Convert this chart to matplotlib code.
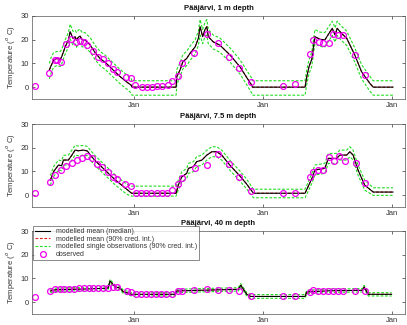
import matplotlib
matplotlib.use("Agg")
import matplotlib.pyplot as plt
from matplotlib.lines import Line2D

# days relative to 1 Jan of the second year
JAN_TICKS = [0, 365, 730]
TITLES = ["Pääjärvi, 1 m depth", "Pääjärvi, 7.5 m depth", "Pääjärvi, 40 m depth"]

# ---- 1 m ----
d1 = [-240, -235, -228, -219, -209, -205, -195, -186, -181, -173, -167, -163, -158, -153,
      -147, -139, -124, -110, -96, -82, -68, -54, -40, -21, -8, -6, 119, 121, 130, 138,
      149, 158, 173, 182, 187, 194, 201, 206, 210, 224, 243, 272, 300, 317, 333, 335,
      484, 489, 495, 503, 512, 526, 540, 555, 561, 569, 575, 583, 592, 602, 625, 644,
      668, 677, 733]
med1 = [7.2, 9.0, 11.4, 12.1, 11.7, 12.8, 17.0, 19.9, 23.4, 20.6, 21.3, 19.8, 21.0, 21.5,
        20.0, 19.9, 17.7, 14.5, 12.0, 10.5, 8.5, 6.5, 4.5, 2.2, 0.8, 0.0, 0.0, 4.4, 7.2, 10.7,
        12.1, 14.2, 17.0, 20.6, 25.5, 21.3, 24.4, 25.5, 21.3, 19.1, 17.7, 13.5, 8.5, 4.5, 0.8, 0.0,
        0.0, 4.4, 8.5, 11.7, 21.3, 20.2, 19.9, 23.4, 24.8, 22.0, 24.8, 23.4, 22.0, 20.6, 13.5, 6.5,
        1.5, 0.0, 0.0]
up1 = [10.0, 12.5, 14.5, 15.0, 15.0, 16.0, 20.0, 23.0, 26.5, 23.5, 24.0, 23.0, 24.0, 24.5,
       23.0, 23.0, 20.8, 17.5, 15.0, 13.5, 11.5, 9.5, 7.5, 5.2, 3.5, 2.7, 2.7, 7.5, 10.2, 13.7,
       15.2, 17.2, 20.0, 23.6, 28.5, 24.3, 27.4, 28.5, 24.3, 22.0, 20.7, 16.5, 11.5, 7.5, 3.8, 2.7,
       2.7, 7.5, 11.5, 14.7, 24.3, 23.2, 23.0, 26.4, 27.8, 25.0, 27.8, 26.4, 25.0, 23.6, 16.5, 9.5,
       4.5, 2.7, 2.7]
lo1 = [3.5, 6.0, 8.4, 9.1, 8.7, 9.8, 14.0, 16.9, 20.4, 17.6, 18.3, 16.8, 18.0, 18.5,
       17.0, 16.9, 14.7, 11.5, 9.0, 7.5, 5.5, 3.5, 1.5, -0.8, -2.5, -3.4, -3.4, 1.2, 4.2, 7.7,
       9.1, 11.2, 14.0, 17.6, 22.0, 18.3, 21.4, 22.0, 18.3, 16.1, 14.7, 10.5, 5.5, 1.5, -2.5, -3.4,
       -3.4, 1.2, 5.5, 8.7, 18.3, 17.2, 16.9, 20.4, 21.8, 19.0, 21.8, 20.4, 19.0, 17.6, 10.5, 3.5,
       -1.8, -3.4, -3.4]
od1 = [-280, -240, -225, -219, -207, -192, -179, -164, -153, -143, -132, -117, -103, -87,
       -73, -59, -47, -23, -9, 3, 22, 36, 50, 64, 78, 95, 108, 124, 135, 171, 206, 237,
       269, 297, 330, 421, 455, 498, 506, 523, 536, 552, 564, 578, 592, 625, 654]
ot1 = [0.5, 6.0, 11.4, 11.4, 10.7, 18.0, 20.1, 19.1, 19.6, 19.0, 17.6, 15.3, 12.8, 11.7,
       10.0, 7.5, 6.3, 4.4, 3.8, 1.0, -0.1, -0.1, 0.1, 0.4, 0.4, 0.8, 2.4, 4.8, 10.3, 14.2,
       22.3, 18.5, 12.8, 7.9, 2.1, 0.4, 1.3, 14.0, 19.7, 18.9, 18.6, 18.5, 22.3, 22.1, 22.1,
       13.4, 5.1]

# ---- 7.5 m ----
d2 = [-237, -228, -214, -205, -200, -186, -176, -167, -158, -143, -132, -124, -110, -96,
      -82, -68, -54, -40, -21, -7, 119, 125, 135, 149, 154, 168, 177, 192, 206, 220, 234,
      248, 272, 300, 317, 338, 484, 503, 512, 540, 550, 573, 583, 602, 611, 620, 634, 653,
      677, 733]
med2 = [6.3, 9.9, 12.7, 12.4, 14.8, 14.8, 16.9, 19.0, 18.7, 19.0, 18.6, 16.9, 14.5, 12.5,
        10.5, 8.5, 6.5, 4.8, 2.5, 0.8, 0.8, 4.2, 7.7, 9.2, 11.3, 12.0, 14.1, 14.8, 16.9, 18.3, 18.3,
        16.9, 12.5, 8.0, 5.0, 0.8, 0.8, 6.9, 10.6, 11.3, 15.5, 15.5, 16.9, 16.9, 18.3, 16.9, 10.6, 4.2,
        1.3, 1.3]
up2 = [8.3, 12.0, 14.8, 14.5, 16.8, 16.9, 19.0, 21.0, 20.7, 21.0, 20.5, 19.0, 16.6, 14.6,
       12.6, 10.6, 8.6, 6.9, 4.6, 3.8, 3.8, 6.3, 9.8, 11.3, 13.4, 14.1, 16.2, 16.9, 19.0, 20.4, 20.4,
       19.0, 14.6, 10.1, 7.1, 2.5, 2.5, 9.0, 12.7, 13.4, 17.6, 17.6, 19.0, 19.0, 20.4, 19.0, 12.7, 6.3,
       3.1, 3.1]
lo2 = [4.3, 7.8, 10.6, 10.3, 12.7, 12.7, 14.8, 16.9, 16.6, 16.9, 16.6, 14.8, 12.4, 10.4,
       8.4, 6.4, 4.4, 2.7, 0.4, -0.4, -0.4, 2.1, 5.6, 7.1, 9.2, 9.9, 12.0, 12.7, 14.8, 16.2, 16.2,
       14.8, 10.4, 5.9, 2.9, -1.1, -1.1, 4.8, 8.5, 9.2, 13.4, 13.4, 14.8, 14.8, 16.2, 14.8, 8.5, 2.1,
       -0.1, -0.1]
od2 = [-281, -238, -223, -207, -192, -176, -162, -148, -132, -120, -104, -90, -74, -60,
       -49, -25, -9, 6, 20, 33, 48, 64, 78, 94, 108, 124, 135, 173, 206, 237, 269, 297,
       330, 421, 455, 498, 507, 521, 534, 552, 566, 581, 597, 628, 654]
ot2 = [1.1, 5.6, 8.7, 10.6, 12.4, 13.4, 14.8, 15.8, 16.6, 15.5, 13.0, 12.0, 9.9, 7.7,
       6.8, 4.5, 3.9, 1.1, 0.7, 0.7, 0.7, 0.7, 0.7, 1.1, 2.1, 4.5, 7.3, 11.5, 12.7, 17.2,
       13.0, 7.7, 1.7, 0.7, 1.1, 7.7, 9.9, 10.6, 10.8, 16.2, 14.4, 16.6, 14.4, 13.7, 5.1]

# ---- 40 m ----
d3 = [-237, -223, -181, -124, -74, -68, -54, -40, -30, -21, -7, 116, 121, 187, 295, 302,
      319, 330, 484, 489, 555, 647, 651, 663, 729]
med3 = [4.7, 5.2, 5.4, 5.6, 5.9, 8.9, 6.5, 5.9, 4.3, 4.0, 3.3, 3.3, 4.7, 5.0, 5.4, 7.1,
        3.3, 2.4, 2.4, 4.3, 4.8, 5.0, 6.4, 3.3, 3.3]
up3 = [5.4, 5.9, 6.1, 6.3, 6.6, 9.6, 7.2, 6.6, 5.0, 4.7, 4.0, 4.0, 5.4, 5.7, 6.1, 7.8,
       4.0, 3.2, 3.2, 5.0, 5.5, 5.7, 7.1, 4.0, 4.0]
lo3 = [4.0, 4.5, 4.7, 4.9, 5.2, 8.2, 5.8, 5.2, 3.6, 3.3, 2.6, 2.6, 4.0, 4.3, 4.7, 6.4,
       2.6, 1.6, 1.6, 3.6, 4.1, 4.3, 5.7, 2.6, 2.6]
od3 = [-281, -238, -225, -211, -197, -183, -170, -156, -143, -129, -115, -101, -87, -73,
       -59, -47, -21, -8, 6, 20, 34, 48, 62, 76, 91, 107, 124, 135, 171, 206, 237, 269,
       297, 330, 421, 455, 498, 507, 521, 536, 550, 564, 578, 592, 625, 654]
ot3 = [2.2, 4.7, 5.5, 5.6, 5.7, 5.7, 5.7, 5.8, 5.8, 5.8, 5.9, 5.9, 5.9, 6.0, 6.5, 6.4,
       4.7, 4.3, 3.5, 3.3, 3.3, 3.3, 3.3, 3.3, 3.4, 3.4, 4.7, 4.7, 5.0, 5.4, 5.2, 5.2, 4.9,
       2.4, 2.4, 2.4, 4.3, 5.0, 4.7, 4.7, 4.9, 4.9, 4.9, 4.9, 4.7, 4.7]

PANELS = [(d1, med1, up1, lo1, od1, ot1),
          (d2, med2, up2, lo2, od2, ot2),
          (d3, med3, up3, lo3, od3, ot3)]

GREEN, RED, MAG = "#22dd22", "#e02020", "#ee00ee"
TXT = "#333333"
plt.rcParams["font.family"] = ["Liberation Sans", "DejaVu Sans"]

fig = plt.figure(figsize=(4.07, 3.25), dpi=100)
tops = [16, 124, 231]   # pixel rows of the axes tops
for i, (d, med, up, lo, od, ot) in enumerate(PANELS):
    top = tops[i]
    ax = fig.add_axes([32 / 407, 1 - (top + 83) / 325, 373 / 407, 83 / 325])
    ax.plot(d, up, "--", color=GREEN, lw=0.8, dashes=(2.5, 1.5))
    ax.plot(d, lo, "--", color=GREEN, lw=0.8, dashes=(2.5, 1.5))
    ax.plot(d, med, "--", color=RED, lw=0.8, dashes=(2.5, 1.5))
    ax.plot(d, med, "-", color="black", lw=0.8)
    ax.plot(od, ot, "o", mfc="none", mec=MAG, ms=4.2, mew=0.9)
    ax.set_xlim(-289, 767)
    ax.set_ylim(-5, 30)
    ax.set_yticks([0, 10, 20, 30])
    ax.set_xticks(JAN_TICKS)
    ax.set_xticklabels(["Jan"] * 3)
    ax.tick_params(direction="in", length=2.5, width=0.5, labelsize=5.5,
                   colors=TXT, top=True, right=True, pad=2)
    for s in ax.spines.values():
        s.set_linewidth(0.5)
        s.set_color("#555555")
    ax.set_ylabel("Temperature ($^o$ C)", fontsize=5.5, color=TXT, labelpad=3)
    ax.set_title(TITLES[i], fontsize=5.5, fontweight="bold", color="#111111", pad=4)

    if i == 2:
        handles = [Line2D([], [], color="black", lw=0.8),
                   Line2D([], [], color=RED, lw=0.8, ls="--", dashes=(2.5, 1.5)),
                   Line2D([], [], color=GREEN, lw=0.8, ls="--", dashes=(2.5, 1.5)),
                   Line2D([], [], ls="none", marker="o", mfc="none", mec=MAG, ms=4.2, mew=0.9)]
        labels = ["modelled mean (median)", "modelled mean (90% cred. int.)",
                  "modelled single observations (90% cred. int.)", "observed"]
        leg = ax.legend(handles, labels, loc="upper left",
                        bbox_to_anchor=(33 / 407, 1 - 226 / 325),
                        bbox_transform=fig.transFigure, fontsize=5, frameon=True,
                        fancybox=False, borderpad=0.3, labelspacing=0.1,
                        handlelength=2.2, handletextpad=0.8, borderaxespad=0)
        leg.get_frame().set_edgecolor("#333333")
        leg.get_frame().set_linewidth(0.5)
        for t in leg.get_texts():
            t.set_color(TXT)

fig.savefig("out.png", dpi=100)
